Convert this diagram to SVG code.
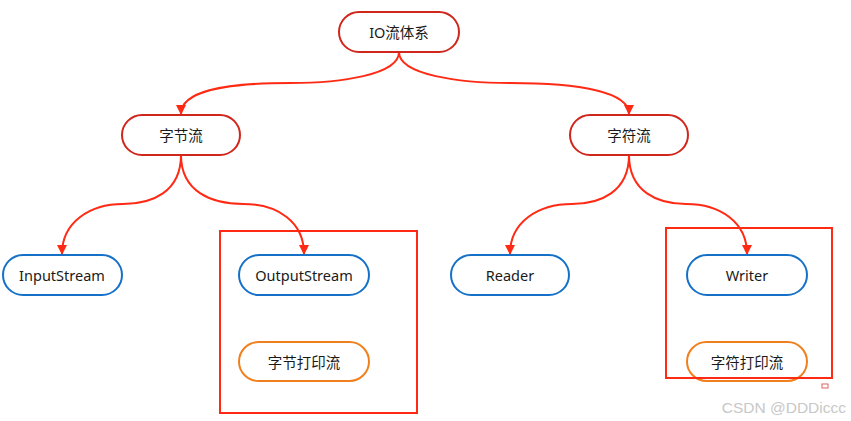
<svg xmlns="http://www.w3.org/2000/svg" width="851" height="421" viewBox="0 0 851 421">
<defs>
<style>
.t{font-family:"Noto Sans","Noto Sans CJK SC",sans-serif;font-size:14.5px;fill:#1a1a1a;text-anchor:middle;dominant-baseline:central}
.r{fill:#fff;stroke:#d0261c;stroke-width:2}
.b{fill:#fff;stroke:#1570c8;stroke-width:2}
.o{fill:#fff;stroke:#f0801e;stroke-width:2}
.c{fill:none;stroke:#ff2a14;stroke-width:2}
.box{fill:none;stroke:#ff2a14;stroke-width:2}
</style>
<marker id="ah" viewBox="0 0 10 10" refX="9" refY="5" markerWidth="5" markerHeight="5" orient="auto">
<path d="M0,0 L10,5 L0,10 z" fill="#ff2a14"/>
</marker>
</defs>
<rect width="851" height="421" fill="#fff"/>
<rect class="box" x="220" y="231" width="197" height="182"/>
<g id="connectors">
<path class="c" marker-end="url(#ah)" d="M399,52 C399,75 340,83 290,83 C220,83 181,92 181,114"/>
<path class="c" marker-end="url(#ah)" d="M399,52 C399,75 460,83 510,83 C580,83 629,92 629,114"/>
<path class="c" marker-end="url(#ah)" d="M181,155 C181,192 152,204 123,204 C90,204 62,222 62,254"/>
<path class="c" marker-end="url(#ah)" d="M181,155 C181,192 212,204 243,204 C278,204 304,222 304,254"/>
<path class="c" marker-end="url(#ah)" d="M629,155 C629,192 600,204 572,204 C538,204 510,222 510,254"/>
<path class="c" marker-end="url(#ah)" d="M629,155 C629,192 658,204 686,204 C720,204 747,222 747,254"/>
</g>
<g id="io"><rect class="r" x="339" y="12" width="120" height="40" rx="20"/><text class="t" x="399" y="32">IO流体系</text></g>
<g id="byte"><rect class="r" x="122" y="115" width="118" height="40" rx="20"/><text class="t" x="181" y="135">字节流</text></g>
<g id="char"><rect class="r" x="570" y="115" width="118" height="40" rx="20"/><text class="t" x="629" y="135">字符流</text></g>
<g id="inputstream"><rect class="b" x="3" y="255" width="119" height="40" rx="20"/><text class="t" x="62" y="275">InputStream</text></g>
<g id="outputstream"><rect class="b" x="239" y="255" width="130" height="40" rx="20"/><text class="t" x="304" y="275">OutputStream</text></g>
<g id="printstream"><rect class="o" x="239" y="342" width="130" height="39" rx="19.5"/><text class="t" x="304" y="362">字节打印流</text></g>
<g id="reader"><rect class="b" x="451" y="255" width="118" height="40" rx="20"/><text class="t" x="510" y="275">Reader</text></g>
<g id="writer"><rect class="b" x="687" y="255" width="120" height="40" rx="20"/><text class="t" x="747" y="275">Writer</text></g>
<g id="printwriter"><rect class="o" x="687" y="342" width="120" height="39" rx="19.5"/><text class="t" x="747" y="362">字符打印流</text></g>
<rect class="box" x="666" y="228" width="166" height="150"/>
<rect x="822" y="384" width="6" height="4" fill="none" stroke="#e06060" stroke-width="1"/>
<text x="846" y="407" font-family="Liberation Sans,Arial,sans-serif" font-size="15.5" fill="#c8c8c8" text-anchor="end" dominant-baseline="central">CSDN @DDDiccc</text>
</svg>
